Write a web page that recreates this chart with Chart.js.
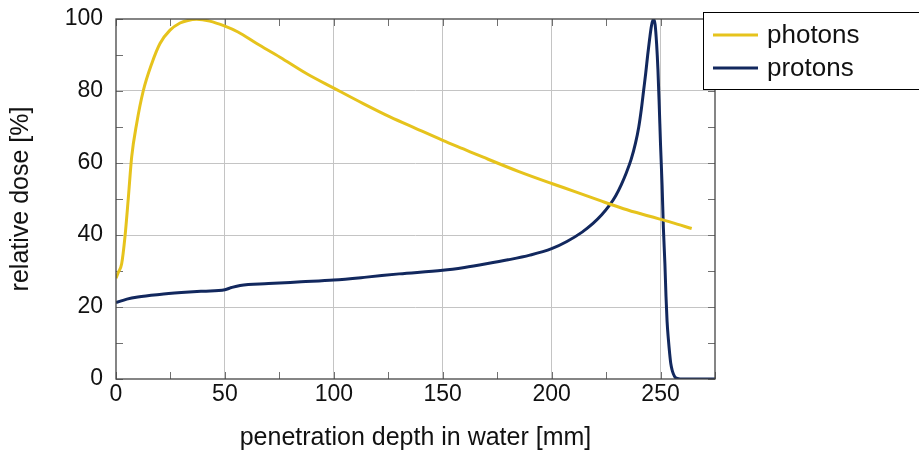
<!DOCTYPE html>
<html>
<head>
<meta charset="utf-8">
<script src="https://cdn.jsdelivr.net/npm/chart.js@4"></script>
<style>
    html, body { margin: 0; padding: 0; background: #fff; }
    #wrap { width: 919px; height: 453px; }
</style>
</head>
<body>
<div id="wrap"><canvas id="myChart" width="919" height="453"></canvas></div>
<script>
// depth dose curves in water (depth in mm, dose in % of max)
const photonDepth = [0, 1, 2.6, 4.1, 5.7, 7.2, 9.5, 12.5, 16.4, 20.2, 24.8, 29.4, 33, 37, 43, 50, 56, 64.6, 75.3, 87.6, 100, 113.5, 125.8, 138, 150, 159.5, 168.6, 185, 200, 211, 222, 233, 245, 255, 264.3];
const photonDose = [28, 29.5, 32, 39.4, 50.6, 61.7, 71, 80, 87.6, 93.2, 96.9, 98.9, 99.6, 99.9, 99.4, 98, 96.4, 93.2, 89.4, 84.8, 80.8, 76.5, 72.8, 69.5, 66.3, 63.9, 61.6, 57.6, 54.3, 52, 49.6, 47.3, 45.2, 43.5, 41.8];

const protonDepth = [0, 5, 10, 20, 30, 40, 50, 53, 57, 70, 85, 100, 115, 130, 150, 160, 170, 180, 190, 200, 207, 214, 219, 223, 226.5, 229.5, 232, 234.3, 236.5, 238.5, 240, 241.2, 242.2, 243.2, 244.1, 245, 245.8, 246.7, 247.5, 248.2, 248.8, 249.4, 250, 250.7, 251.3, 252, 252.5, 253, 253.6, 254.2, 254.7, 255.3, 255.9, 256.7, 258.2, 260, 275];
const protonDose = [21.2, 22.2, 22.8, 23.5, 24, 24.4, 24.8, 25.4, 26, 26.5, 27, 27.5, 28.3, 29.2, 30.2, 31, 32, 33.1, 34.4, 36.2, 38.2, 40.8, 43.2, 45.6, 48.2, 51, 54, 57.3, 61, 65.5, 70, 75, 80, 85, 90, 94.5, 98, 100, 98.5, 93, 86, 76, 65, 54, 42, 32, 23, 16, 11, 7, 4.3, 2.5, 1.4, 0.5, 0.1, 0, 0];

const seriesNames = ['photons', 'protons'];
const seriesColors = ['rgb(230,195,28)', 'rgb(18,40,94)'];

const FONT = "'Liberation Sans', Arial, sans-serif";

function toPoints(xs, ys) {
    return xs.map(function(x, i) { return { x: x, y: ys[i] }; });
}

// ticks pointing into the plot + frame around it
const frameBox = {
    id: 'frameBox',
    beforeDatasetsDraw(chart) {
        const ctx = chart.ctx;
        const a = chart.chartArea;
        const sx = chart.scales.x, sy = chart.scales.y;
        const len = 7;
        ctx.save();
        ctx.strokeStyle = '#707070';
        ctx.lineWidth = 1;
        ctx.beginPath();
        sx.ticks.forEach(function(t) {
            const px = Math.round(sx.getPixelForValue(t.value)) + 0.5;
            ctx.moveTo(px, a.bottom); ctx.lineTo(px, a.bottom - len);
            ctx.moveTo(px, a.top); ctx.lineTo(px, a.top + len);
        });
        sy.ticks.forEach(function(t) {
            const py = Math.round(sy.getPixelForValue(t.value)) + 0.5;
            ctx.moveTo(a.left, py); ctx.lineTo(a.left + len, py);
            ctx.moveTo(a.right, py); ctx.lineTo(a.right - len, py);
        });
        ctx.stroke();
        ctx.restore();
    },
    afterDatasetsDraw(chart) {
        const ctx = chart.ctx;
        const a = chart.chartArea;
        ctx.save();
        ctx.strokeStyle = '#444';
        ctx.lineWidth = 1.3;
        ctx.strokeRect(a.left, a.top, a.right - a.left, a.bottom - a.top);
        ctx.restore();
    }
};

// legend box in the upper right corner, partly over the frame
const cornerLegend = {
    id: 'cornerLegend',
    afterDraw(chart) {
        const ctx = chart.ctx;
        const x0 = 703.5, y0 = 12.5;
        ctx.save();
        ctx.fillStyle = '#fff';
        ctx.fillRect(x0, y0, 240, 77);
        ctx.strokeStyle = '#000';
        ctx.lineWidth = 1;
        ctx.strokeRect(x0, y0, 240, 77);
        ctx.font = '26px ' + FONT;
        ctx.textBaseline = 'middle';
        chart.data.datasets.forEach(function(ds, i) {
            const y = 35 + i * 33;
            ctx.strokeStyle = ds.borderColor;
            ctx.lineWidth = 3;
            ctx.beginPath();
            ctx.moveTo(713, y);
            ctx.lineTo(758, y);
            ctx.stroke();
            ctx.fillStyle = '#111';
            ctx.fillText(ds.label, 767, y + 1);
        });
        ctx.restore();
    }
};

const data = {
    datasets: [{
        label: seriesNames[0],
        data: toPoints(photonDepth, photonDose),
        borderColor: seriesColors[0],
        borderWidth: 3,
        pointRadius: 0,
        cubicInterpolationMode: 'monotone'
    }, {
        label: seriesNames[1],
        data: toPoints(protonDepth, protonDose),
        borderColor: seriesColors[1],
        borderWidth: 3,
        pointRadius: 0,
        cubicInterpolationMode: 'monotone'
    }]
};

const config = {
    type: 'line',
    data: data,
    options: {
        responsive: false,
        animation: false,
        layout: { padding: { top: 19, right: 204, left: 0, bottom: 0 } },
        plugins: {
            legend: { display: false },
            tooltip: { enabled: false }
        },
        scales: {
            x: {
                type: 'linear',
                min: 0,
                max: 275,
                afterFit: function(s) { s.height = 74; s.paddingLeft = 0; s.paddingRight = 0; },
                ticks: {
                    stepSize: 25,
                    padding: 2,
                    color: '#111',
                    font: { family: FONT, size: 23 },
                    maxRotation: 0,
                    autoSkip: false,
                    callback: function(v) { return v % 50 === 0 ? v : ''; }
                },
                grid: {
                    drawTicks: false,
                    lineWidth: 1,
                    color: function(c) {
                        const v = c.tick.value;
                        return (v % 50 === 0 && v > 0 && v < 275) ? '#c4c4c4' : 'rgba(0,0,0,0)';
                    }
                },
                border: { display: false },
                title: {
                    display: true,
                    text: 'penetration depth in water [mm]',
                    color: '#111',
                    font: { family: FONT, size: 25 },
                    padding: { top: 0, bottom: 0 }
                }
            },
            y: {
                min: 0,
                max: 100,
                afterFit: function(s) { s.width = 116; s.paddingTop = 0; s.paddingBottom = 0; },
                ticks: {
                    stepSize: 10,
                    padding: 13,
                    color: '#111',
                    font: { family: FONT, size: 23 },
                    autoSkip: false,
                    callback: function(v) { return v % 20 === 0 ? v : ''; }
                },
                grid: {
                    drawTicks: false,
                    lineWidth: 1,
                    color: function(c) {
                        const v = c.tick.value;
                        return (v % 20 === 0 && v > 0 && v < 100) ? '#c4c4c4' : 'rgba(0,0,0,0)';
                    }
                },
                border: { display: false },
                title: {
                    display: true,
                    text: 'relative dose [%]',
                    color: '#111',
                    font: { family: FONT, size: 25 },
                    padding: { top: 6, bottom: 0 }
                }
            }
        }
    },
    plugins: [frameBox, cornerLegend]
};

const myChart = new Chart(document.getElementById('myChart'), config);
</script>
</body>
</html>
